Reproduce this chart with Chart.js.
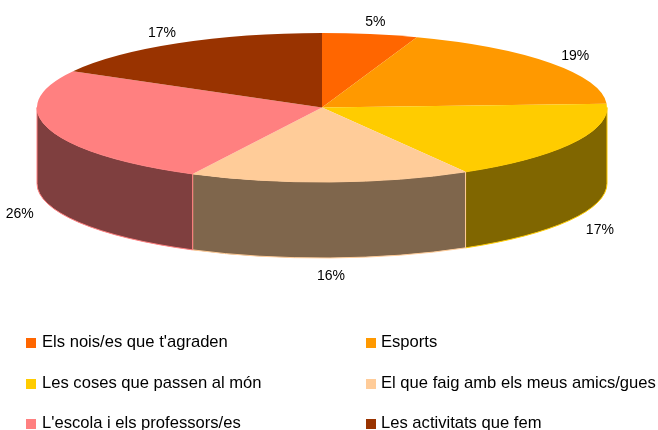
<!DOCTYPE html>
<html><head><meta charset="utf-8">
<script src="https://cdn.jsdelivr.net/npm/chart.js@4/dist/chart.umd.min.js"></script>
<style>
html,body{margin:0;padding:0;background:#fff;}
#wrap{position:relative;width:658px;height:430px;overflow:hidden;}
#c{position:absolute;left:0;top:0;}
#legend{position:absolute;left:0;top:0;width:658px;height:430px;font-family:"Liberation Sans",Arial,sans-serif;font-size:16.6px;color:#000;}
.txt{position:absolute;white-space:nowrap;line-height:16px;}
.sw{position:absolute;width:10px;height:10px;}
</style></head>
<body><div id="wrap"><canvas id="c" width="658" height="430"></canvas><div id="legend"></div></div>
<script>
const categories = ["Els nois/es que t'agraden", "Esports", "Les coses que passen al món", "El que faig amb els meus amics/gues", "L'escola i els professors/es", "Les activitats que fem"];
const values = [5.4, 18.8, 17.4, 15.9, 25.6, 16.9];
const topColors = ["#FF6600", "#FF9900", "#FFCC00", "#FFCC99", "#FF8080", "#993300"];
const sideColors = ["#803300", "#804C00", "#806600", "#7F664C", "#7F3F3F", "#4C1900"];

// ellipse geometry of the 3D pie
const RX = 285, RY = 74.5, DEPTH = 76;
const LBL_A = 316, LBL_B = 88, LBL_DEPTH = 80;

function drawSide(ctx, cx, cy, a0, a1, fill, stroke) {
  ctx.beginPath();
  ctx.ellipse(cx, cy, RX, RY, 0, a0, a1, false);
  ctx.lineTo(cx + RX * Math.cos(a1), cy + DEPTH + RY * Math.sin(a1));
  ctx.ellipse(cx, cy + DEPTH, RX, RY, 0, a1, a0, true);
  ctx.closePath();
  ctx.fillStyle = fill;
  ctx.fill();
  ctx.strokeStyle = stroke;
  ctx.lineWidth = 1;
  ctx.stroke();
}

const pie3d = {
  id: 'pie3d',
  beforeDatasetsDraw(chart) {
    const ctx = chart.ctx;
    const arcs = chart.getDatasetMeta(0).data;
    const cx = arcs[0].x, cy = arcs[0].y, R = arcs[0].outerRadius;
    arcs.forEach((a, i) => {
      const a0 = Math.max(a.startAngle, 0), a1 = Math.min(a.endAngle, Math.PI);
      if (a1 > a0) drawSide(ctx, cx, cy, a0, a1, sideColors[i], topColors[i]);
    });
    ctx.save();
    ctx.translate(cx, cy);
    ctx.scale(RX / R, RY / R);
    ctx.translate(-cx, -cy);
  },
  afterDatasetsDraw(chart) {
    const ctx = chart.ctx;
    ctx.restore();
    const arcs = chart.getDatasetMeta(0).data;
    ctx.save();
    ctx.font = '14px "Liberation Sans", Arial, sans-serif';
    ctx.fillStyle = '#000';
    ctx.textAlign = 'center';
    ctx.textBaseline = 'alphabetic';
    arcs.forEach((a, i) => {
      const m = (a.startAngle + a.endAngle) / 2;
      const c = Math.cos(m), s = Math.sin(m);
      const x = a.x + LBL_A * c;
      const y = a.y + LBL_B * s + (s > 0 ? LBL_DEPTH : 0);
      ctx.fillText(Math.round(values[i]) + '%', x, y + 5);
    });
    ctx.restore();
  }
};

new Chart(document.getElementById('c'), {
  type: 'pie',
  data: {
    labels: categories,
    datasets: [{ data: values, backgroundColor: topColors, borderWidth: 0 }]
  },
  options: {
    responsive: false,
    animation: false,
    events: [],
    layout: { padding: { left: 0, right: 14, top: 0, bottom: 215 } },
    plugins: { legend: { display: false }, tooltip: { enabled: false } }
  },
  plugins: [pie3d]
});

const legendCols = [26, 366];
const legendBaselines = [348, 389, 429];
const lg = document.getElementById('legend');
categories.forEach((name, i) => {
  const col = i % 2, row = Math.floor(i / 2);
  const sw = document.createElement('div');
  sw.className = 'sw';
  sw.style.left = legendCols[col] + 'px';
  sw.style.top = (legendBaselines[row] - 10.5) + 'px';
  sw.style.background = topColors[i];
  lg.appendChild(sw);
  const t = document.createElement('div');
  t.className = 'txt';
  t.textContent = name;
  t.style.left = (legendCols[col] + (col ? 15 : 16)) + 'px';
  t.style.top = (legendBaselines[row] - 13.8) + 'px';
  lg.appendChild(t);
});
</script>
</body></html>
